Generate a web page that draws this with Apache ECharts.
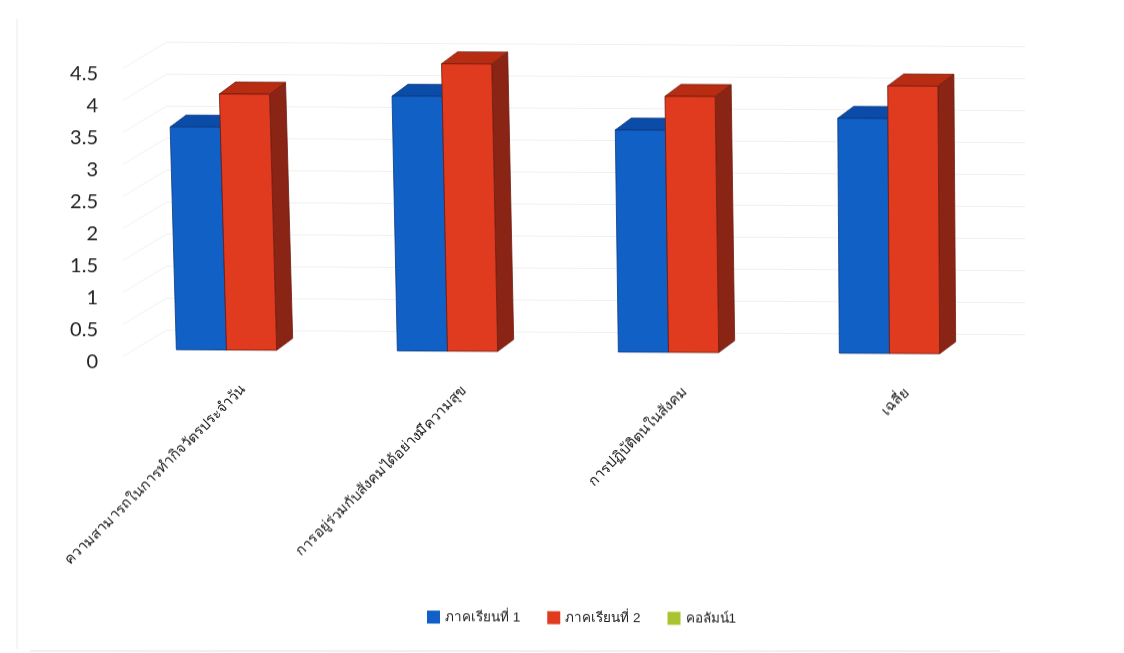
<!DOCTYPE html>
<html><head><meta charset="utf-8">
<style>html,body{margin:0;padding:0;background:#fff;overflow:hidden}#c{width:1124px;height:653px;transform:skewY(.3deg);transform-origin:226px 350px}</style>
<script src="https://cdn.jsdelivr.net/npm/echarts@6/dist/echarts.min.js"></script>
</head><body><div id="c"></div>
<script>
const categories = ['ความสามารถในการทำกิจวัตรประจำวัน','การอยู่ร่วมกับสังคมได้อย่างมีความสุข','การปฏิบัติตนในสังคม','เฉลี่ย'];
const term1 = [3.48, 3.98, 3.47, 3.67];
const term2 = [4.0, 4.49, 4.0, 4.18];
const column1 = [];
const yTicks = [0, 0.5, 1, 1.5, 2, 2.5, 3, 3.5, 4, 4.5];
const names = ['ภาคเรียนที่ 1', 'ภาคเรียนที่ 2', 'คอลัมน์1'];

const DX = 16, DY = -12, BAND = 0.227;
function bar3d(side, front, top, right, edge) {
  return function (params, api) {
    const cat = api.value(0), v = api.value(1);
    const base = api.coord([cat, 0]), tip = api.coord([cat, v]);
    const w = api.size([1, 0])[0] * BAND;
    const lean = (base[1] - tip[1]) * 0.035 * (1 - base[0] / 1100);
    const bl = [base[0] + (side < 0 ? -w : 0), base[1]];
    const br = [bl[0] + w, base[1]];
    const tl = [bl[0] - lean, tip[1]];
    const tr = [br[0] - lean, tip[1]];
    const off = p => [p[0] + DX, p[1] + DY];
    const poly = (pts, fill) => ({ type: 'polygon', shape: { points: pts },
      style: { fill: fill, stroke: edge, lineWidth: 0.8 } });
    return { type: 'group', children: [
      poly([br, tr, off(tr), off(br)], right),
      poly([tl, tr, off(tr), off(tl)], top),
      poly([bl, br, tr, tl], front)
    ] };
  };
}
function slant(params, api) {
  const p = api.coord([0, api.value(0)]);
  return { type: 'line', shape: { x1: p[0], y1: p[1], x2: p[0] - 44, y2: p[1] + 27 },
    style: { stroke: '#f1f1f1', lineWidth: 1 } };
}

const chart = echarts.init(document.getElementById('c'));
chart.setOption({
  animation: false,
  backgroundColor: '#fff',
  color: ['#1160c6', '#e03a1f', '#a9c42e'],
  graphic: [
    { type: 'line', shape: { x1: 17, y1: 20, x2: 17, y2: 650 }, style: { stroke: '#f2f2f2', lineWidth: 1.5 }, silent: true },
    { type: 'line', shape: { x1: 30, y1: 652, x2: 1000, y2: 647 }, style: { stroke: '#e2e2e2', lineWidth: 1 }, silent: true }
  ],
  legend: {
    left: 422, top: 604, icon: 'rect', itemWidth: 13, itemHeight: 13, itemGap: 27,
    textStyle: { fontFamily: 'Liberation Sans, Noto Sans, sans-serif', fontSize: 13.5, color: '#222' },
    data: names
  },
  grid: [
    { left: 116, top: 62, width: 884, height: 288 },
    { left: 133, top: 75, width: 884, height: 288 },
    { left: 167, top: 42, width: 858, height: 288 }
  ],
  xAxis: [
    { gridIndex: 0, type: 'category', data: categories, axisLine: { show: false }, axisTick: { show: false }, axisLabel: { show: false } },
    { gridIndex: 1, type: 'category', data: categories, axisLine: { show: false }, axisTick: { show: false },
      axisLabel: { rotate: 45, margin: 24, interval: 0, fontSize: 14.5, color: '#1a1a1a', fontFamily: 'Noto Sans, sans-serif' } },
    { gridIndex: 2, type: 'value', min: 0, max: 1, show: false }
  ],
  yAxis: [
    { gridIndex: 0, type: 'value', min: 0, max: 4.5, interval: 0.5, show: false },
    { gridIndex: 1, type: 'value', min: 0, max: 4.5, interval: 0.5, axisLine: { show: false }, axisTick: { show: false }, splitLine: { show: false },
      axisLabel: { margin: 35, fontSize: 20, color: '#222', fontFamily: 'Lato, sans-serif', formatter: v => String(v) } },
    { gridIndex: 2, type: 'value', min: 0, max: 4.5, interval: 0.5, axisLine: { show: false }, axisTick: { show: false }, axisLabel: { show: false },
      splitLine: { show: true, lineStyle: { color: '#f0f0f0', width: 1 } } }
  ],
  series: [
    { type: 'custom', name: 'wall', xAxisIndex: 2, yAxisIndex: 2, data: yTicks.map(t => [t]), encode: { y: 0 }, renderItem: slant, silent: true, z: 1 },
    { type: 'custom', name: names[0], xAxisIndex: 0, yAxisIndex: 0, z: 2, itemStyle: { color: '#1160c6' },
      data: term1.map((v, i) => [i, v]), encode: { x: 0, y: 1 },
      renderItem: bar3d(-1, '#1160c6', '#0b4ca8', '#0b3f8c', '#0a3a7e') },
    { type: 'custom', name: names[1], xAxisIndex: 0, yAxisIndex: 0, z: 3, itemStyle: { color: '#e03a1f' },
      data: term2.map((v, i) => [i, v]), encode: { x: 0, y: 1 },
      renderItem: bar3d(1, '#e03a1f', '#b82c12', '#8a2415', '#6e1c10') },
    { type: 'custom', name: names[2], xAxisIndex: 0, yAxisIndex: 0, itemStyle: { color: '#a9c42e' },
      data: column1, renderItem: () => null }
  ]
});
</script></body></html>
